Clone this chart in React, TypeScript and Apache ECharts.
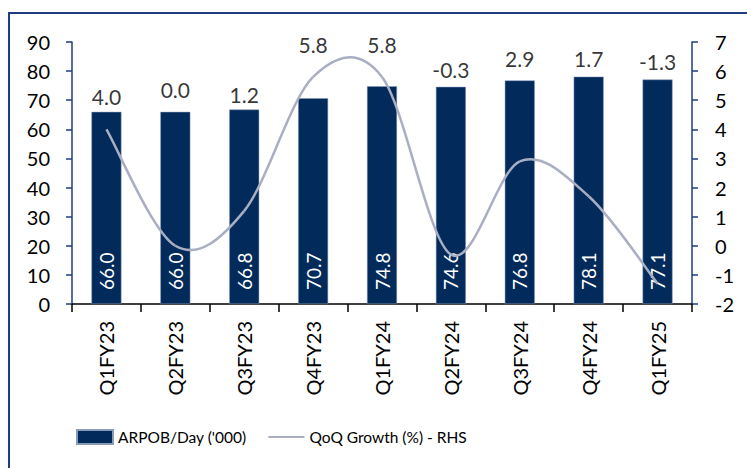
import React, { useEffect, useRef } from "react";
import * as echarts from "echarts";

const categories = ["Q1FY23", "Q2FY23", "Q3FY23", "Q4FY23", "Q1FY24", "Q2FY24", "Q3FY24", "Q4FY24", "Q1FY25"];
const arpob = [66.0, 66.0, 66.8, 70.7, 74.8, 74.6, 76.8, 78.1, 77.1];
const growth = [4.0, 0.0, 1.2, 5.8, 5.8, -0.3, 2.9, 1.7, -1.3];
// label lift above bar tops (style only, px)
const labelLift = [5, 12, 5, 43, 31, 7, 11, 8, 8];

const NAVY = "#022b5b";
const AXIS = "#1f3c80";
const LINE = "#a9aec2";
const FONT = "Lato, 'Open Sans', sans-serif";

export default function App() {
  const ref = useRef<HTMLDivElement>(null);
  useEffect(() => {
    document.body.style.margin = "0";
    const chart = echarts.init(ref.current!, null, { renderer: "svg" });
    const n = growth.length;
    const clampIdx = (k: number) => Math.max(0, Math.min(n - 1, k));
    chart.setOption({
      animation: false,
      textStyle: { fontFamily: FONT },
      graphic: [
        {
          type: "rect",
          shape: { x: 9, y: 13, width: 800, height: 500 },
          style: { fill: "none", stroke: AXIS, lineWidth: 2 },
          silent: true,
        },
      ],
      legend: {
        left: 71,
        top: 424,
        itemWidth: 36,
        itemHeight: 14,
        itemGap: 22,
        textStyle: { fontSize: 15.5, color: "#000", fontFamily: FONT },
        data: [
          { name: "ARPOB/Day ('000)", icon: "rect" },
          { name: "QoQ Growth (%) - RHS", icon: "path://M0,6 L36,6 L36,8 L0,8 Z" },
        ],
      },
      grid: { left: 72, right: 55, top: 42, bottom: 164 },
      xAxis: {
        type: "category",
        data: categories,
        axisLine: { lineStyle: { color: "#000", width: 1.5 } },
        axisTick: { show: true, length: 8, alignWithLabel: false, lineStyle: { color: "#000", width: 1.5 } },
        axisLabel: { rotate: 90, fontSize: 20, color: "#000", margin: 17, fontFamily: FONT },
      },
      yAxis: [
        {
          type: "value",
          min: 0,
          max: 90,
          interval: 10,
          splitLine: { show: false },
          axisLine: { show: true, lineStyle: { color: AXIS, width: 1.5 } },
          axisTick: { show: true, length: 6, lineStyle: { color: AXIS, width: 1.5 } },
          axisLabel: { fontSize: 20, color: "#000", margin: 22, fontFamily: FONT },
        },
        {
          type: "value",
          min: -2,
          max: 7,
          interval: 1,
          splitLine: { show: false },
          axisLine: { show: true, lineStyle: { color: AXIS, width: 1.5 } },
          axisTick: { show: true, length: 6, lineStyle: { color: AXIS, width: 1.5 } },
          axisLabel: { fontSize: 20, color: "#000", margin: 23, fontFamily: FONT },
        },
      ],
      series: [
        {
          name: "ARPOB/Day ('000)",
          type: "bar",
          data: arpob,
          barWidth: "43.5%",
          itemStyle: { color: NAVY, borderColor: "#8a9bb8", borderWidth: 0.5 },
          label: {
            show: true,
            position: "insideBottom",
            rotate: 90,
            align: "left",
            verticalAlign: "middle",
            distance: 14,
            color: "#fff",
            fontSize: 19,
            fontFamily: FONT,
            formatter: (p: any) => p.value.toFixed(1),
          },
          z: 2,
        },
        {
          name: "QoQ Growth (%) - RHS",
          type: "custom",
          coordinateSystem: "cartesian2d",
          xAxisIndex: 0,
          yAxisIndex: 1,
          data: growth.map((v, i) => [i, v]),
          encode: { x: 0, y: 1 },
          itemStyle: { color: LINE },
          silent: true,
          z: 3,
          renderItem: (params: any, api: any) => {
            const i = params.dataIndex;
            if (i >= n - 1) return { type: "group", children: [] };
            const pt = (k: number) => {
              const c = clampIdx(k);
              return api.coord([c, growth[c]]);
            };
            const p0 = pt(i - 1);
            const p1 = pt(i);
            const p2 = pt(i + 1);
            const p3 = pt(i + 2);
            return {
              type: "bezierCurve",
              shape: {
                x1: p1[0],
                y1: p1[1],
                cpx1: p1[0] + (p2[0] - p0[0]) / 6,
                cpy1: p1[1] + (p2[1] - p0[1]) / 6,
                cpx2: p2[0] - (p3[0] - p1[0]) / 6,
                cpy2: p2[1] - (p3[1] - p1[1]) / 6,
                x2: p2[0],
                y2: p2[1],
              },
              style: { stroke: LINE, lineWidth: 2.5, fill: "none" },
            };
          },
        },
        {
          name: "growthLabels",
          type: "scatter",
          yAxisIndex: 0,
          data: arpob.map((v, i) => ({
            value: v,
            label: { distance: labelLift[i] },
          })),
          symbolSize: 0,
          silent: true,
          label: {
            show: true,
            position: "top",
            color: "#000",
            fontSize: 21,
            fontFamily: FONT,
            formatter: (p: any) => growth[p.dataIndex].toFixed(1),
          },
          z: 4,
        },
      ],
    });
    return () => chart.dispose();
  }, []);
  return <div ref={ref} style={{ width: 747, height: 468, position: "absolute", left: 0, top: 0 }} />;
}
